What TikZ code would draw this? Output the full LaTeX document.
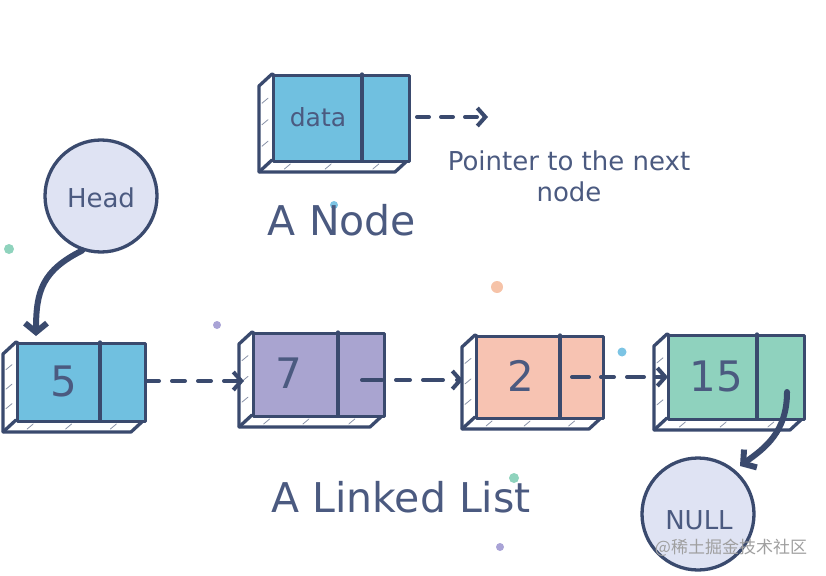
\documentclass[tikz,border=0pt]{standalone}
\usepackage{fontspec}
\setmainfont{DejaVu Sans}
\newfontfamily\cjk{Noto Sans CJK SC}
\usetikzlibrary{arrows.meta,calc}
\definecolor{ink}{HTML}{3A4A6E}
\definecolor{txt}{HTML}{4B5A80}
\definecolor{cblue}{HTML}{70C0E0}
\definecolor{cpurple}{HTML}{A9A4D0}
\definecolor{cpeach}{HTML}{F7C3B2}
\definecolor{cteal}{HTML}{8FD2BE}
\definecolor{ccircle}{HTML}{DFE3F3}
\definecolor{dteal}{HTML}{8FD3BD}
\definecolor{dblue}{HTML}{7CC4E4}
\definecolor{dpeach}{HTML}{F6C3A8}
\definecolor{dpurple}{HTML}{A9A3D6}
\tikzset{
  edge/.style={draw=ink, line width=3.3pt, line join=round, line cap=round},
  sideface/.style={edge, fill=white},
  hatch/.style={draw=ink!60, line width=0.8pt, line cap=round},
  front/.style={edge, rectangle, inner sep=0pt},
  lbl/.style={text=txt, inner sep=0pt},
  small/.style={text=txt, font=\fontsize{26}{31}\selectfont, inner sep=0pt},
  big/.style={text=txt, font=\fontsize{41}{48}\selectfont, inner sep=0pt},
  circ/.style={circle, draw=ink, line width=3.3pt, fill=ccircle, minimum size=112pt, inner sep=0pt},
  dasharrow/.style={draw=ink, line width=4pt, line cap=round, dash pattern=on 13pt off 13pt, -{Straight Barb[length=8pt,width=18pt]}},
  bigarrow/.style={draw=ink, line width=6pt, line cap=round, -{Straight Barb[length=9pt,width=22pt]}},
  dot/.style={circle, inner sep=0pt, draw=none}
}
\newcommand\numfont{\fontsize{42}{48}\selectfont}
\newcommand\datafont{\fontsize{25}{30}\selectfont}
% #1 name #2 x #3 y #4 w #5 h #6 divider offset #7 fill #8 label #9 label centre x
\newcommand\llbox[9]{%
  \filldraw[sideface] (#2,#3) -- ++(-13,12) -- ++(0,#5) -- ++(#4,0) -- ++(13,-12) -- cycle;
  \draw[edge] (#2,#3+#5) -- ++(-13,12);
  \foreach \k in {0.2,0.45,0.7} \draw[hatch] (#2-10,#3+\k*#5+12) -- ++(6,-5);
  \foreach \k in {0.15,0.45,0.8} \draw[hatch] (#2+\k*#4-8,#3+#5+9) -- ++(6,-5);
  \node[front, fill=#7, minimum width=#4pt, minimum height=#5pt, anchor=north west] (#1) at (#2,#3) {};
  \draw[edge] (#2+#6,#3) -- (#2+#6,#3+#5);
  \node[lbl] (#1-t) at (#9,#3+#5/2) {#8};
  \coordinate (#1-p) at (#2+#6/2+#4/2,#3+#5/2);
}
\begin{document}
\begin{tikzpicture}[x=1pt,y=-1pt]
\useasboundingbox (0,0) rectangle (826,575);
% decorative dots
\node[dot, fill=dteal, minimum size=10pt] (d1) at (9,249) {};
\node[dot, fill=dblue, minimum size=8pt] (d2) at (334,205) {};
\node[dot, fill=dpeach, minimum size=12pt] (d3) at (497,287) {};
\node[dot, fill=dpurple, minimum size=8pt] (d4) at (217,325) {};
\node[dot, fill=dblue, minimum size=9pt] (d5) at (622,352) {};
\node[dot, fill=dteal, minimum size=10pt] (d6) at (514,478) {};
\node[dot, fill=dpurple, minimum size=8pt] (d7) at (500,547) {};
% top example node
\llbox{data}{272}{74}{136}{86}{90}{cblue}{\datafont data}{318}
\coordinate (ptrstart) at (417,117);
\coordinate (ptrend) at (488,117);
\draw[dasharrow, dash pattern=on 12pt off 12pt] (ptrstart) -- (ptrend);
\node[small, align=center] (ptrtxt) at (569,176) {Pointer to the next\\node};
\node[big] (anode) at (342,220) {A Node};
% head
\node[circ] (head) at (101,196) {};
\node[small] (head-t) at (101,198) {Head};
% list
\llbox{n5}{16}{342}{128}{78}{84}{cblue}{\numfont 5}{64}
\llbox{n7}{252}{332}{131}{83}{86}{cpurple}{\numfont 7}{289}
\llbox{n2}{475}{335}{127}{82}{85}{cpeach}{\numfont 2}{521}
\llbox{n15}{667}{334}{136}{84}{90}{cteal}{\numfont 15}{716}
\node[circ] (null) at (698,514) {};
\node[small] (null-t) at (699,520) {NULL};
% arrow anchor points
\coordinate (a5s) at (146,381);
\coordinate (a5e) at (244,381);
\coordinate (a7s) at (362,380);
\coordinate (a7e) at (463,380);
\coordinate (a2s) at (572,377);
\coordinate (a2e) at (668,377);
\coordinate (h5) at (36,336);
\coordinate (n15s) at (787,392);
\coordinate (nulle) at (740,466);
% connectors
\draw[bigarrow] (head.-109) .. controls +(-40,20) and +(0,-45) .. (h5);
\draw[dasharrow] (a5s) -- (a5e);
\draw[dasharrow, dash pattern=on 20pt off 14pt on 14pt off 13pt] (a7s) -- (a7e);
\draw[dasharrow, dash pattern=on 17pt off 12pt on 13pt off 13pt] (a2s) -- (a2e);
\draw[bigarrow] (n15s) .. controls +(0,40) and +(25,-18) .. (nulle);
% text
\node[big] (alist) at (401,497) {A Linked List};
\node[text=gray!75, font=\cjk\fontsize{17}{20}\selectfont, inner sep=0pt] (wm) at (731,548) {@稀土掘金技术社区};
\end{tikzpicture}
\end{document}
